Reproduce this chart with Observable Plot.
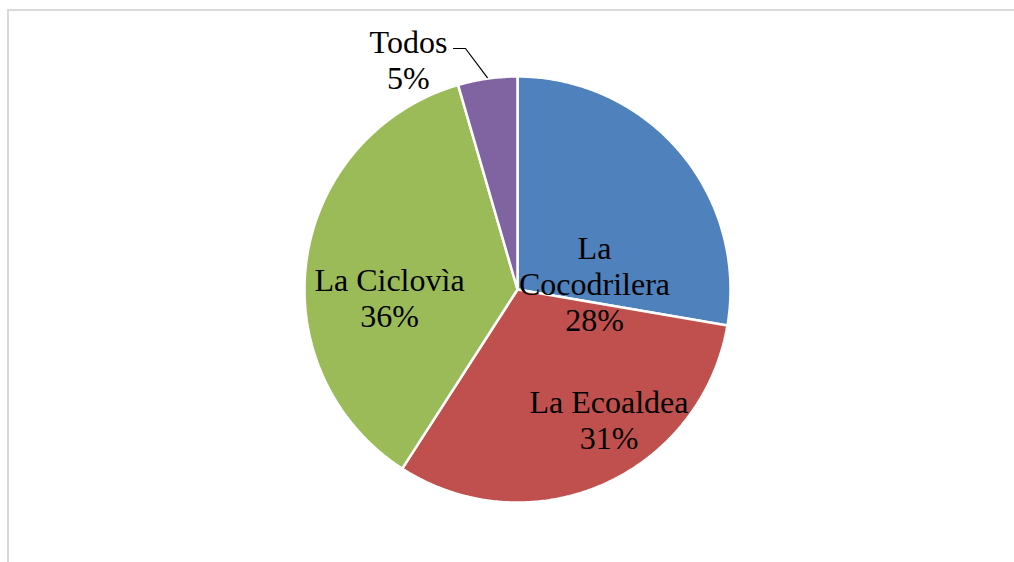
<!DOCTYPE html>
<html>
<head>
<meta charset="utf-8">
<script src="https://cdn.jsdelivr.net/npm/d3@7"></script>
<script src="https://cdn.jsdelivr.net/npm/@observablehq/plot@0.6"></script>
<style>
  html, body { margin: 0; padding: 0; background: #fff; }
  #wrap { position: relative; width: 1014px; height: 562px; overflow: hidden; }
  #border { position: absolute; left: 7px; top: 9px; right: 0; bottom: 0;
            border-top: 2px solid #d9d9d9; border-left: 2px solid #d9d9d9; pointer-events: none; }
</style>
</head>
<body>
<div id="wrap"><div id="chart"></div><div id="border"></div></div>
<script>
// ---- data ----
const categories = ["La Cocodrilera", "La Ecoaldea", "La Ciclovìa", "Todos"];
const values = [27.7, 31.4, 36.4, 4.5];           // slice shares (%)
const percentLabels = ["28%", "31%", "36%", "5%"]; // labels as printed
const labelNames = ["La\nCocodrilera", "La Ecoaldea", "La Ciclovìa", "Todos"];
const colors = ["#4F81BD", "#C0504D", "#9BBB59", "#8064A2"];

// ---- layout (radius units, y up) ----
const W = 1014, H = 562, CX = 517, CY = 289, R = 213;
const labelOffsets = [[0.3615, 0.028], [0.4296, -0.610], [-0.601, -0.038], [-0.512, 1.080]];
const SERIF = "'Liberation Serif', 'Times New Roman', serif";

const pie = d3.pie().sort(null).value(d => d.value);
const arcs = pie(categories.map((c, i) => ({name: c, value: values[i]})));

// polygon points for each slice
const pts = [];
arcs.forEach(a => {
  const name = a.data.name;
  pts.push({name, x: 0, y: 0});
  const n = Math.max(2, Math.ceil((a.endAngle - a.startAngle) / (Math.PI / 360)));
  for (let k = 0; k <= n; k++) {
    const t = a.startAngle + (a.endAngle - a.startAngle) * k / n;
    pts.push({name, x: Math.sin(t), y: Math.cos(t)});
  }
  pts.push({name, x: 0, y: 0});
});

const labelData = arcs.map((a, i) => ({
  text: labelNames[i] + "\n" + percentLabels[i],
  x: labelOffsets[i][0], y: labelOffsets[i][1]
}));

// leader line for the outside "Todos" label
const todos = arcs[3];
const mid = (todos.startAngle + todos.endAngle) / 2;
const leader = [
  {x: -0.3005, y: 1.1315},
  {x: -0.2441, y: 1.1315},
  {x: 1.005 * Math.sin(mid), y: 1.005 * Math.cos(mid)}
];

const chart = Plot.plot({
  width: W, height: H,
  margin: 0,
  x: {domain: [-CX / R, (W - CX) / R], axis: null},
  y: {domain: [-(H - CY) / R, CY / R], axis: null},
  color: {domain: categories, range: colors},
  style: {fontFamily: SERIF, background: "white"},
  marks: [
    Plot.line(pts, {x: "x", y: "y", z: "name", fill: "name", stroke: "white", strokeWidth: 2.5, strokeLinejoin: "miter", curve: "linear"}),
    Plot.line(leader, {x: "x", y: "y", stroke: "black", strokeWidth: 1.2}),
    Plot.text(labelData, {x: "x", y: "y", text: "text", fontSize: 32, fontFamily: SERIF, lineHeight: 1.125, fill: "black", textAnchor: "middle"})
  ]
});
document.getElementById("chart").appendChild(chart);
</script>
</body>
</html>
